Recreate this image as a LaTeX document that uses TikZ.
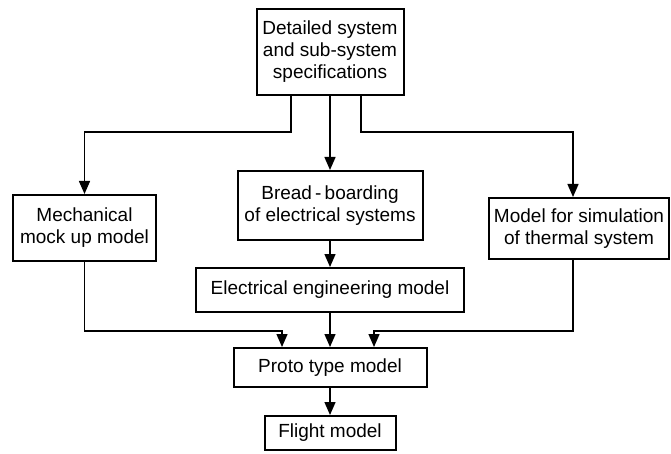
\documentclass[tikz,border=0pt]{standalone}
\usepackage{fontspec}
\setmainfont{Liberation Sans}
\usetikzlibrary{arrows.meta,positioning,calc}

\begin{document}
\begin{tikzpicture}[
    x=1pt, y=1pt,
    node distance=30pt,
    box/.style={draw, line width=2pt, align=center, inner sep=0pt, font=\fontsize{19}{22}\selectfont},
    arrow/.style={-{Triangle[length=13pt, width=11pt]}, line width=1.4pt},
]
    \useasboundingbox (0,0) rectangle (671,-454);

    % Specifications
    \node[box, minimum width=147pt, minimum height=86pt] (spec) at (330,-52) {Detailed system\\and sub-system\\specifications};

    % Middle column
    \node[box, minimum width=185pt, minimum height=69pt, below=74pt of spec] (bread) {Bread\,-\,boarding\\of electrical systems};
    \node[box, minimum width=268pt, minimum height=44pt, below=26pt of bread] (elec) {Electrical engineering model};
    \node[box, minimum width=193pt, minimum height=39pt, below=34pt of elec] (proto) {Proto type model};
    \node[box, minimum width=131pt, minimum height=34pt, below=27pt of proto] (flight) {Flight model};

    % Side models
    \node[box, minimum width=143pt, minimum height=66pt] (mech) at (84.5,-228) {Mechanical\\mock up model};
    \node[box, minimum width=180pt, minimum height=61pt] (thermal) at (579,-228.5) {Model for simulation\\of thermal system};

    % Join levels
    \coordinate (joinT) at (0,-132);
    \coordinate (joinB) at (0,-331);
    \coordinate (specL) at ([xshift=-39pt]spec.south);
    \coordinate (specR) at ([xshift=31pt]spec.south);
    \coordinate (thermN) at ([xshift=-6pt]thermal.north);
    \coordinate (thermS) at ([xshift=-6pt]thermal.south);

    % Arrows
    \draw[arrow] (specL) -- (specL |- joinT) -| (mech.north);
    \draw[arrow] (spec) -- (bread);
    \draw[arrow] (specR) -- (specR |- joinT) -| (thermN);
    \draw[arrow] (bread) -- (elec);
    \draw[arrow] (elec) -- (proto);
    \draw[arrow] (mech.south) -- (mech.south |- joinB) -| ([xshift=-48pt]proto.north);
    \draw[arrow] (thermS) -- (thermS |- joinB) -| ([xshift=44pt]proto.north);
    \draw[arrow] (proto) -- (flight);
\end{tikzpicture}
\end{document}
